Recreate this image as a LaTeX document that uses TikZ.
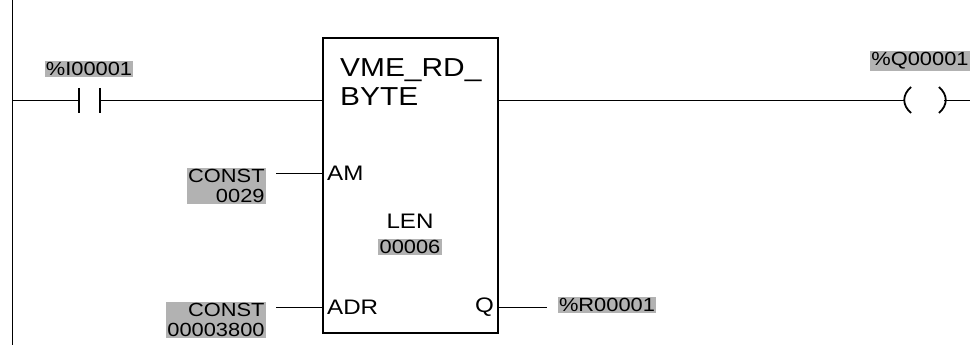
\documentclass[tikz,border=0pt]{standalone}
\usepackage{fontspec}
\setmainfont{Liberation Sans}[FakeStretch=1.15]
\begin{document}
\begin{tikzpicture}[x=1pt,y=1pt,
  wire/.style={line width=0.9pt},
  shaded/.style={fill=black!30,inner sep=1.2pt,font=\fontsize{19}{20.5}\selectfont,align=right},
  pin/.style={inner sep=0pt,font=\fontsize{21}{23}\selectfont},
  bar/.style={line width=2.4pt},
  paren/.style={line width=1.8pt}]
\useasboundingbox (0,0) rectangle (970,350);
% left rail
\coordinate (railtop) at (12,350);
\coordinate (railbot) at (12,5);
\draw[wire] (railtop) -- (railbot);
% contact
\coordinate (rl) at (12,250);
\coordinate (ca) at (79,250);
\coordinate (cb) at (100,250);
\draw[bar] (79,262) -- (79,237);
\draw[bar] (100,262) -- (100,237);
\node[shaded] (ilab) at (89,281) {\%I00001};
% function block
\node[draw,line width=1.1pt,minimum width=175pt,minimum height=295pt,inner sep=0pt] (box) at (410.5,164.5) {};
\node[anchor=north west,inner sep=0pt,align=left,font=\fontsize{26}{29}\selectfont] (title) at (340,292) {VME\_RD\_\\BYTE};
\node[pin,anchor=west] (am) at (327,177) {AM};
\node[pin,anchor=west] (adr) at (327,43) {ADR};
\node[pin,anchor=east] (q) at (494,43) {Q};
\node[pin] (len) at (410,129) {LEN};
\node[shaded,align=center] (lenv) at (410,103) {00006};
% inputs
\node[shaded,anchor=east] (c1) at (266,164) {CONST\\0029};
\node[shaded,anchor=east] (c2) at (266,30) {CONST\\00003800};
\draw[wire] (276,177) coordinate (c1w) -- (box.west |- am);
\draw[wire] (276,43) coordinate (c2w) -- (box.west |- adr);
% output Q
\node[shaded] (rout) at (607,45) {\%R00001};
\coordinate (qend) at (547,43);
\draw[wire] (box.east |- q) -- (qend);
% rung
\draw[wire] (rl) -- (ca);
\draw[wire] (cb) -- (box.west |- cb);
\coordinate (coilL) at (905,250);
\draw[wire] (box.east |- cb) -- (coilL);
\draw[paren] (911,263) .. controls (902,255) and (902,245) .. (911,237);
\draw[paren] (939,263) .. controls (948,255) and (948,245) .. (939,237);
\coordinate (coilR) at (944,250);
\coordinate (rend) at (970,250);
\draw[wire] (coilR) -- (rend);
\node[shaded,anchor=east] (qlab) at (970,289) {\%Q00001};
\end{tikzpicture}
\end{document}
